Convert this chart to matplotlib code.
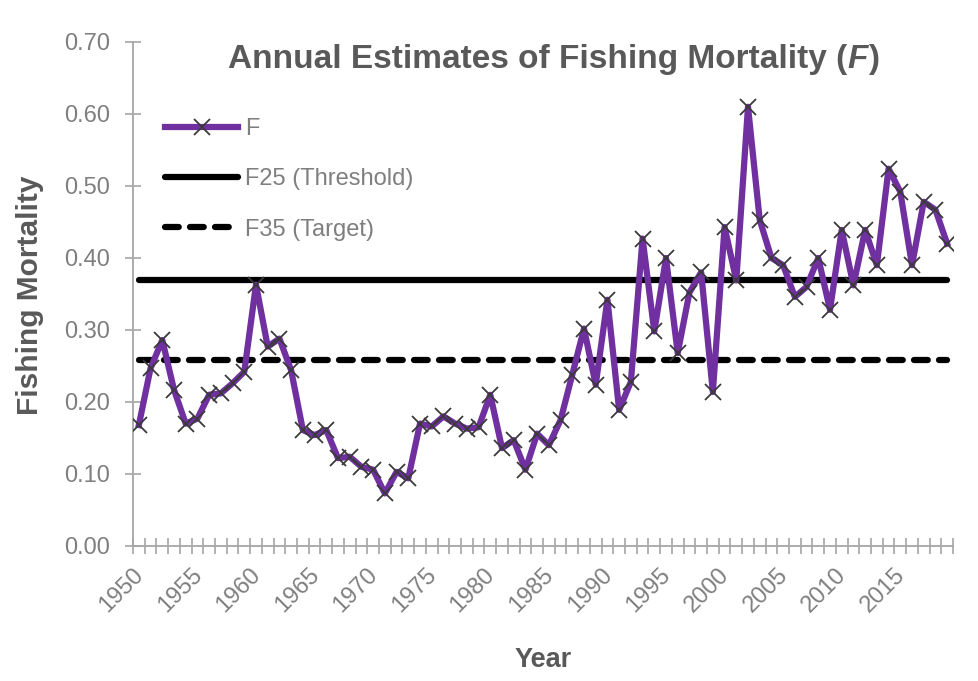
import numpy as np
import matplotlib
matplotlib.use("Agg")
import matplotlib.pyplot as plt
from matplotlib.transforms import ScaledTranslation

# ---------------- data ----------------
years = list(range(1950, 2020))
F_values = [0.168, 0.247, 0.286, 0.217, 0.170, 0.177, 0.210, 0.212, 0.226, 0.242,
            0.363, 0.277, 0.288, 0.244, 0.161, 0.154, 0.161, 0.122, 0.124, 0.110,
            0.106, 0.073, 0.103, 0.094, 0.170, 0.166, 0.180, 0.170, 0.163, 0.165,
            0.210, 0.136, 0.147, 0.106, 0.156, 0.140, 0.175, 0.238, 0.302, 0.224,
            0.342, 0.189, 0.228, 0.427, 0.298, 0.400, 0.268, 0.352, 0.380, 0.214,
            0.443, 0.369, 0.610, 0.453, 0.400, 0.390, 0.346, 0.360, 0.400, 0.328,
            0.439, 0.362, 0.439, 0.390, 0.524, 0.492, 0.390, 0.478, 0.467, 0.420]
F25_threshold = 0.37
F35_target = 0.258
series_labels = ["F", "F25 (Threshold)", "F35 (Target)"]
x_tick_years = list(range(1950, 2020, 5))
y_ticks = [0.0, 0.1, 0.2, 0.3, 0.4, 0.5, 0.6, 0.7]

# ---------------- fonts ----------------
plt.rcParams["font.family"] = ["Liberation Sans", "DejaVu Sans"]

TXT = "#595959"
TICK = "#7f7f7f"
AX = "#a6a6a6"
PURPLE = "#7030A0"

fig = plt.figure(figsize=(9.79, 6.81), dpi=100)
W, H = 979, 681
ax = fig.add_axes([133 / W, (H - 546) / H, (953 - 133) / W, (546 - 42) / H])

ax.plot(years, F_values, color=PURPLE, lw=4.5, marker="x", ms=11, mec="#3a3a3a",
        mew=1.3, label=series_labels[0], zorder=4, solid_joinstyle="round")
ax.plot(years, [F25_threshold] * len(years), color="black", lw=4.5,
        label=series_labels[1], zorder=3, solid_capstyle="round")
ax.plot(years, [F35_target] * len(years), color="black", lw=4.5, dashes=(2.2, 1.8),
        dash_capstyle="round", label=series_labels[2], zorder=3)

ax.set_xlim(1949.5, 2019.5)
ax.set_ylim(0, 0.70)

for s in ["top", "right"]:
    ax.spines[s].set_visible(False)
for s in ["left", "bottom"]:
    ax.spines[s].set_color(AX)
    ax.spines[s].set_linewidth(1.3)

ax.set_yticks(y_ticks)
ax.set_yticklabels([f"{v:.2f}" for v in y_ticks])
ax.tick_params(axis="y", direction="inout", length=11, width=1.2, color=AX,
               labelsize=17, labelcolor=TICK, pad=11)

ax.set_xticks(x_tick_years)
ax.set_xticks(np.arange(1949.5, 2020.0, 1.0), minor=True)
ax.tick_params(axis="x", which="major", length=0, labelsize=17,
               labelcolor=TICK, pad=13)
ax.tick_params(axis="x", which="minor", direction="inout", length=12, width=1.2,
               color=AX)
ax.set_xticklabels([str(y) for y in x_tick_years], rotation=45, ha="right",
                   va="top", rotation_mode="default")
off = ScaledTranslation(9 / 100, 0, fig.dpi_scale_trans)
for lab in ax.get_xticklabels():
    lab.set_transform(lab.get_transform() + off)

fig.text(30 / W, (H - 295) / H, "Fishing Mortality", rotation=90, ha="center",
         va="center", fontsize=21.5, fontweight="bold", color=TXT)
fig.text(543 / W, (H - 660) / H, "Year", ha="center", va="center",
         fontsize=19.5, fontweight="bold", color=TXT)

# title with italic F
TS = 24
t1 = fig.text(228 / W, (H - 68) / H, "Annual Estimates of Fishing Mortality (",
              ha="left", va="baseline", fontsize=TS, fontweight="bold", color=TXT)
t2 = ax.annotate("F", xy=(1, 0), xycoords=t1, ha="left", va="bottom",
                 fontsize=TS, fontweight="bold", fontstyle="italic", color=TXT,
                 annotation_clip=False)
t3 = ax.annotate(")", xy=(1, 0), xycoords=t2, ha="left", va="bottom",
                 fontsize=TS, fontweight="bold", color=TXT,
                 annotation_clip=False)

leg = ax.legend(loc="upper left", bbox_to_anchor=(165 / W, (H - 118) / H),
                bbox_transform=fig.transFigure, frameon=False, fontsize=17,
                handlelength=3.1, handletextpad=0.3, labelspacing=1.2,
                borderpad=0, borderaxespad=0, labelcolor=TICK)

fig.savefig("out.png", dpi=100)
